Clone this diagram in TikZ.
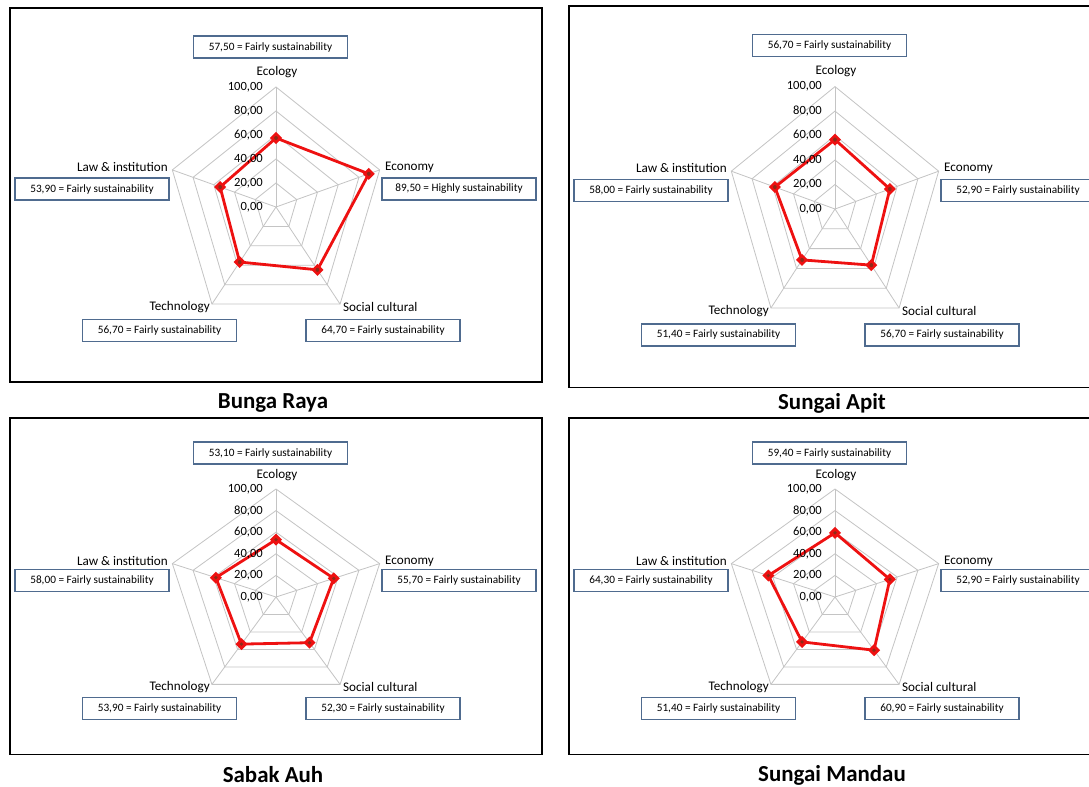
\documentclass[tikz,border=0pt]{standalone}
\usepackage{fontspec}
\setmainfont{Carlito}
\definecolor{gridgray}{HTML}{C4C4C4}
\definecolor{datared}{HTML}{EE1111}
\definecolor{markdark}{HTML}{8E2A18}
\definecolor{boxblue}{HTML}{4F6B8F}
% 0..100 score with comma, as printed in the chart
\newcommand\scoreval[1]{\pgfmathprintnumber[fixed,fixed zerofill,precision=2,use comma,assume math mode=true]{#1}}
\newcommand\grade[1]{\pgfmathtruncatemacro\ishigh{#1>75}\ifnum\ishigh=1 Highly\else Fairly\fi}
\tikzset{
  valbox/.style={draw=boxblue, line width=1.1bp, fill=white, minimum width=154bp,
    minimum height=22bp, inner sep=0pt, font=\fontsize{11.3}{12}\selectfont},
  axislab/.style={inner sep=0pt, font=\fontsize{13.2}{15}\selectfont},
  ticklab/.style={inner sep=0pt, anchor=east, font=\fontsize{12.6}{14}\selectfont},
  paneltitle/.style={inner sep=0pt, font=\bfseries\fontsize{23}{26}\selectfont},
  datamark/.style={fill=datared, minimum size=8.5bp, inner sep=0pt, rotate=45},
  gridline/.style={gridgray, line width=0.8bp}
}
\begin{document}
\begin{tikzpicture}[x=1bp,y=-1bp]
\useasboundingbox[fill=white] (0,0) rectangle (1089,787);

% one panel per village: centre, vertical ratio, title line, title, scores
\foreach \pn/\cx/\cy/\sy/\ty/\ttl/\eco/\econ/\soc/\tech/\law in {
  br/276/207/1/403/{Bunga Raya}/57.5/89.5/64.7/56.7/53.9,
  sa/835/209/1.02/403/{Sungai Apit}/56.7/52.9/56.7/51.4/58.0,
  sb/276/597/0.9/775/{Sabak Auh}/53.1/55.7/52.3/53.9/58.0,
  sm/835/597/0.9/775/{Sungai Mandau}/59.4/52.9/60.9/51.4/64.3}{
\node[paneltitle] (title-\pn) at (\cx-3,\ty) {\ttl};
\begin{scope}[shift={(\cx,\cy)}, yscale=\sy]
  \draw[line width=1.3bp] (-266,-199) rectangle (266,175);

  \begin{scope}[xscale=1.09, yscale=-1.2]
    \foreach \r in {20,40,...,100}
      \draw[gridline] (90:\r) -- (18:\r) -- (-54:\r) -- (-126:\r) -- (162:\r) -- cycle;
    \foreach \a in {90,18,-54,-126,162}
      \draw[gridline] (0,0) -- (\a:100);
    \draw[datared, line width=2.8bp, line join=round]
      (90:\eco) -- (18:\econ) -- (-54:\soc) -- (-126:\tech) -- (162:\law) -- cycle;
    \foreach \a/\v/\k in {90/\eco/eco, 18/\econ/econ, -54/\soc/soc, -126/\tech/tech, 162/\law/law}{
      \node[datamark] (mk-\pn-\k) at (\a:\v) {};
      \fill[markdark] (mk-\pn-\k.center) circle (1.7bp);
    }
  \end{scope}

  \foreach \t in {0,20,...,100}
    \node[ticklab] (tk-\pn-\t) at (-13,-1.2*\t) {\scoreval{\t}};

  \node[axislab] (lab-eco-\pn) at (1,-135) {Ecology};
  \node[axislab, anchor=west] (lab-econ-\pn) at (109,-40) {Economy};
  \node[axislab, anchor=west] (lab-soc-\pn) at (67,100) {Social cultural};
  \node[axislab, anchor=east] (lab-tech-\pn) at (-66,100) {Technology};
  \node[axislab, anchor=east] (lab-law-\pn) at (-108,-40) {Law \& institution};

  \node[valbox] (box-eco-\pn) at (-5.5,-160) {\scoreval{\eco} = \grade{\eco} sustainability};
  \node[valbox] (box-econ-\pn) at (183,-18) {\scoreval{\econ} = \grade{\econ} sustainability};
  \node[valbox] (box-soc-\pn) at (107,123.5) {\scoreval{\soc} = \grade{\soc} sustainability};
  \node[valbox] (box-tech-\pn) at (-116.5,123.5) {\scoreval{\tech} = \grade{\tech} sustainability};
  \node[valbox] (box-law-\pn) at (-184,-18) {\scoreval{\law} = \grade{\law} sustainability};
\end{scope}
}
\end{tikzpicture}
\end{document}
